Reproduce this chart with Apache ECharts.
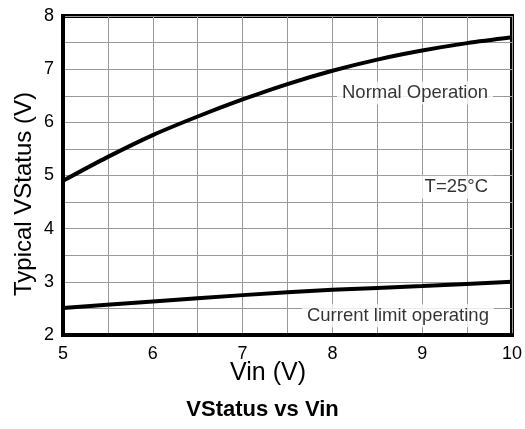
<!DOCTYPE html>
<html>
<head>
<meta charset="utf-8">
<script src="https://cdn.jsdelivr.net/npm/echarts@6/dist/echarts.min.js"></script>
<style>
    html, body {margin:0;padding:0;background:#fff}
    #main {width:525px;height:429px}
</style>
</head>
<body>
<div id="main"></div>
<script>
    // 读图得到的数据
    var vin = [5, 5.5, 6, 6.5, 7, 7.5, 8, 8.5, 9, 9.5, 10];
    var normalOp = [4.9, 5.35, 5.76, 6.11, 6.43, 6.72, 6.97, 7.18, 7.35, 7.49, 7.6];
    var vinLimit = [5, 6, 7, 8, 9, 10];
    var currentLimit = [2.51, 2.63, 2.75, 2.85, 2.92, 3.0];
    var notes = [
        {name: 'Normal Operation', x: 8.92, y: 6.55},
        {name: 'T=25°C', x: 9.38, y: 4.78},
        {name: 'Current limit operating', x: 8.73, y: 2.36}
    ];

    var font = 'Liberation Sans, Arial, sans-serif';
    var chart = echarts.init(document.getElementById('main'));

    var option = {
        animation: false,
        title: {
            text: 'VStatus vs Vin',
            left: 'center',
            top: 399,
            padding: 0,
            textStyle: {fontFamily: font, fontSize: 22, fontWeight: 'bold', color: '#000'}
        },
        graphic: [
            {
                type: 'text', x: 24, y: 194, rotation: Math.PI / 2, silent: true,
                style: {
                    text: 'Typical VStatus (V)', fill: '#000',
                    font: '24px ' + font, align: 'center', verticalAlign: 'middle'
                }
            },
            {
                type: 'text', x: 268, y: 373, silent: true,
                style: {
                    text: 'Vin (V)', fill: '#000',
                    font: '25px ' + font, align: 'center', verticalAlign: 'middle'
                }
            }
        ],
        grid: {
            left: 63, right: 12, top: 16, bottom: 94,
            show: true, borderColor: '#000', borderWidth: 4
        },
        xAxis: {
            type: 'value', min: 5, max: 10, interval: 0.5,
            axisLine: {lineStyle: {color: '#000', width: 4}},
            axisTick: {show: false},
            axisLabel: {
                fontFamily: font, fontSize: 18, color: '#000', margin: 10,
                formatter: function (v) { return v % 1 === 0 ? String(v) : ''; }
            },
            splitLine: {lineStyle: {color: '#999', width: 1}}
        },
        yAxis: {
            type: 'value', min: 2, max: 8, interval: 0.5,
            axisLine: {lineStyle: {color: '#000', width: 4}},
            axisTick: {show: false},
            axisLabel: {
                fontFamily: font, fontSize: 18, color: '#000', margin: 9,
                formatter: function (v) { return v % 1 === 0 ? String(v) : ''; }
            },
            splitLine: {lineStyle: {color: '#999', width: 1}}
        },
        series: [
            {
                type: 'line', smooth: 0.3, showSymbol: false,
                lineStyle: {color: '#000', width: 4},
                data: vin.map(function (x, i) { return [x, normalOp[i]]; }),
                z: 3
            },
            {
                type: 'line', smooth: 0.3, showSymbol: false,
                lineStyle: {color: '#000', width: 4},
                data: vinLimit.map(function (x, i) { return [x, currentLimit[i]]; }),
                z: 3
            },
            {
                type: 'scatter', symbolSize: 0, silent: true, z: 4,
                data: notes.map(function (n) { return {name: n.name, value: [n.x, n.y]}; }),
                label: {
                    show: true, position: 'inside', formatter: '{b}',
                    fontFamily: font, fontSize: 18.5, color: '#000',
                    backgroundColor: '#fff', padding: [2, 5]
                }
            }
        ]
    };
    chart.setOption(option);
</script>
</body>
</html>
